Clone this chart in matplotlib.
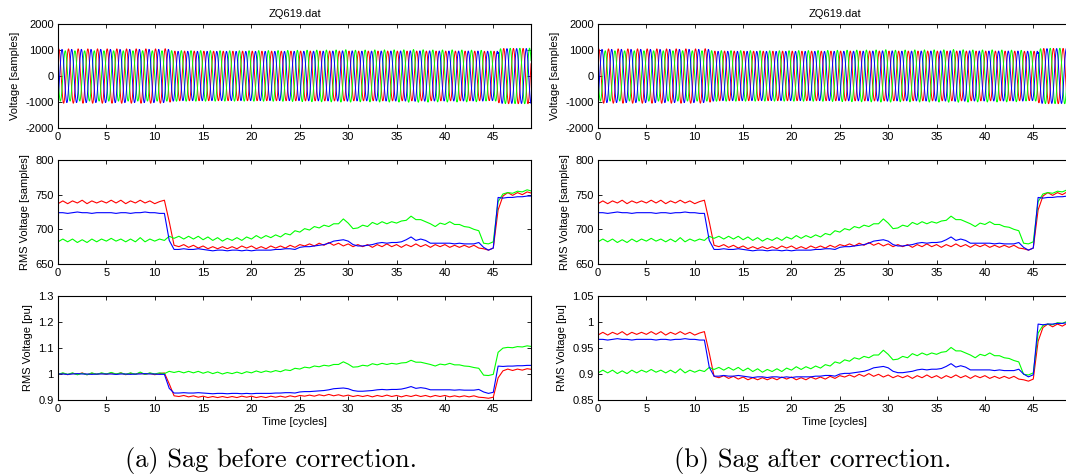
import numpy as np
import matplotlib.pyplot as plt

plt.rcParams['font.family'] = ['Liberation Sans', 'DejaVu Sans']
plt.rcParams['font.size'] = 8
plt.rcParams['axes.unicode_minus'] = False

# rms per phase, one value every half cycle (0 .. 49 cycles)
cycles = np.arange(0, 49.5, 0.5)
rms_red = [737, 741, 737, 741, 738, 742, 737, 741, 738, 741,
           738, 742, 738, 742, 737, 741, 738, 742, 738, 741,
           737, 740, 742, 711, 677, 675, 678, 674, 677, 673,
           676, 672, 675, 672, 675, 672, 675, 672, 676, 673,
           676, 672, 675, 672, 676, 673, 676, 673, 677, 674,
           678, 676, 679, 676, 680, 677, 681, 677, 680, 676,
           679, 675, 678, 675, 678, 674, 678, 675, 679, 675,
           678, 674, 678, 675, 679, 675, 678, 674, 678, 675,
           678, 674, 677, 674, 677, 674, 677, 673, 672, 670,
           673, 728, 748, 753, 749, 753, 750, 754, 752]
rms_green = [682, 686, 682, 686, 681, 685, 681, 686, 682, 686,
             683, 687, 683, 686, 682, 686, 682, 688, 682, 686,
             683, 686, 684, 690, 687, 690, 686, 690, 686, 690,
             685, 689, 684, 688, 683, 687, 684, 688, 684, 689,
             686, 691, 687, 691, 688, 692, 689, 694, 692, 698,
             696, 701, 699, 704, 702, 706, 704, 708, 708, 715,
             709, 701, 702, 706, 704, 710, 707, 711, 708, 711,
             709, 712, 713, 719, 714, 714, 711, 708, 704, 709,
             707, 711, 707, 707, 704, 703, 700, 698, 680, 679,
             682, 740, 751, 753, 752, 755, 754, 757, 755]
rms_blue = [724, 724, 723, 724, 725, 724, 724, 723, 724, 724,
            724, 724, 723, 724, 724, 723, 724, 724, 725, 724,
            724, 723, 723, 684, 671, 671, 672, 671, 671, 672,
            671, 670, 669, 670, 670, 669, 670, 670, 669, 670,
            669, 670, 670, 670, 670, 671, 671, 672, 672, 671,
            674, 675, 675, 676, 677, 678, 680, 683, 684, 685,
            683, 678, 676, 676, 677, 678, 680, 681, 680, 681,
            681, 682, 685, 689, 684, 686, 684, 680, 680, 680,
            680, 680, 679, 680, 679, 679, 679, 681, 674, 670,
            673, 746, 745, 746, 746, 747, 747, 748, 748]

# per-unit bases (red, green, blue)
base_before = [739, 683, 724]
base_after = [756, 756, 749]
phase_deg = [-30, 90, -150]

rms = [np.array(rms_red), np.array(rms_green), np.array(rms_blue)]
colors = ['#ff0000', '#00ff00', '#0000ff']

# sampled waveform, amplitude taken from the rms of each half cycle
tw = np.arange(0, 49, 1 / 64)
idx = (tw * 2).astype(int)

fig = plt.figure(figsize=(10.66, 4.75), dpi=100)

lefts = [58 / 1066, 598 / 1066]
w = 473 / 1066
h = 104 / 475
bottoms = [1 - 128 / 475, 1 - 264 / 475, 1 - 400 / 475]


def style(ax):
    ax.set_xlim(0, 48.9)
    ax.set_xticks(range(0, 50, 5))
    ax.tick_params(direction='in', top=True, right=True, length=3, width=0.6, pad=3)
    for s in ax.spines.values():
        s.set_linewidth(0.8)


for col, bases in enumerate([base_before, base_after]):
    ax1 = fig.add_axes([lefts[col], bottoms[0], w, h])
    for v, c, ph in zip(rms, colors, phase_deg):
        wave = np.sqrt(2) * v[idx] * np.cos(2 * np.pi * tw + np.deg2rad(ph))
        ax1.plot(tw, wave, color=c, lw=0.7)
    style(ax1)
    ax1.set_ylim(-2000, 2000)
    ax1.set_yticks([-2000, -1000, 0, 1000, 2000])
    ax1.set_ylabel('Voltage [samples]')
    ax1.set_title('ZQ619.dat', fontsize=8, pad=5)

    ax2 = fig.add_axes([lefts[col], bottoms[1], w, h])
    for v, c in zip(rms, colors):
        ax2.plot(cycles, v, color=c, lw=0.8)
    style(ax2)
    ax2.set_ylim(650, 800)
    ax2.set_yticks([650, 700, 750, 800])
    ax2.set_ylabel('RMS Voltage [samples]')

    ax3 = fig.add_axes([lefts[col], bottoms[2], w, h])
    for v, c, b in zip(rms, colors, bases):
        ax3.plot(cycles, v / b, color=c, lw=0.8)
    style(ax3)
    if col == 0:
        ax3.set_ylim(0.9, 1.3)
        ax3.set_yticks([0.9, 1.0, 1.1, 1.2, 1.3])
        ax3.set_yticklabels(['0.9', '1', '1.1', '1.2', '1.3'])
    else:
        ax3.set_ylim(0.85, 1.05)
        ax3.set_yticks([0.85, 0.9, 0.95, 1.0, 1.05])
        ax3.set_yticklabels(['0.85', '0.9', '0.95', '1', '1.05'])
    ax3.set_ylabel('RMS Voltage [pu]')
    ax3.set_xlabel('Time [cycles]', labelpad=2)

fig.text(271 / 1066, 1 - 460 / 475, '(a) Sag before correction.', family='cmr10',
         fontsize=19, ha='center', va='center')
fig.text(813 / 1066, 1 - 460 / 475, '(b) Sag after correction.', family='cmr10',
         fontsize=19, ha='center', va='center')

fig.savefig('out.png', dpi=100)
